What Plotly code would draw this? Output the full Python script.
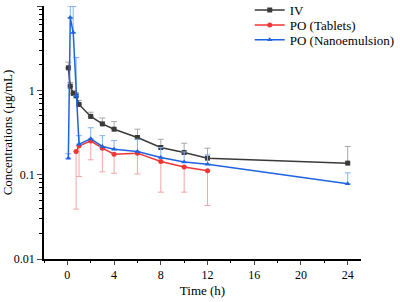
import plotly.graph_objects as go

# ---- data ----
iv_t = [0.083, 0.25, 0.5, 0.75, 1, 2, 3, 4, 6, 8, 10, 12, 24]
iv_c = [1.85, 1.12, 0.92, 0.86, 0.68, 0.49, 0.40, 0.346, 0.276, 0.21, 0.183, 0.157, 0.137]
iv_err = [0.31, 0.12, 0.08, 0.08, 0.08, 0.06, 0.07, 0.08, 0.07, 0.053, 0.053, 0.049, 0.079]

tab_t = [0.75, 1, 2, 3, 4, 6, 8, 10, 12]
tab_c = [0.188, 0.22, 0.25, 0.206, 0.175, 0.18, 0.143, 0.123, 0.111]
tab_err = [0.149, 0.125, 0.10, 0.098, 0.071, 0.078, 0.081, 0.061, 0.068]

nano_t = [0.083, 0.25, 0.5, 0.75, 1, 2, 3, 4, 6, 8, 10, 12, 24]
nano_c = [0.157, 7.3, 4.85, 0.86, 0.23, 0.266, 0.216, 0.2, 0.188, 0.16, 0.141, 0.133, 0.078]
nano_err = [0.02, 2.7, 5.0, 1.59, 0.06, 0.094, 0.074, 0.054, 0.075, 0.05, 0.045, 0.039, 0.027]

x_ticks = [0, 4, 8, 12, 16, 20, 24]

FONT = "Liberation Serif, Times New Roman, serif"

fig = go.Figure()

def add(name, t, c, err, color, ecolor, symbol, legend, minus=False):
    zeros = [0] * len(err)
    fig.add_trace(go.Scatter(
        x=t, y=c, name=name, mode="lines+markers", legend=legend,
        line=dict(color=color, width=1.5),
        marker=dict(symbol=symbol, size=5, color=color),
        error_y=dict(type="data", symmetric=False,
                     array=zeros if minus else err,
                     arrayminus=err if minus else zeros,
                     color=ecolor, thickness=1, width=3),
    ))

add("IV", iv_t, iv_c, iv_err, "#3a3a3a", "#a8a8a8", "square", "legend")
add("PO (Tablets)", tab_t, tab_c, tab_err, "#f03535", "#f5a5a5", "circle", "legend2", minus=True)
add("PO (Nanoemulsion)", nano_t, nano_c, nano_err, "#1f63e0", "#86b0f0", "triangle-up", "legend3")

def leg(y):
    return dict(x=0.649, y=y, xanchor="left", yanchor="middle",
                bgcolor="rgba(0,0,0,0)", font=dict(family=FONT, size=13),
                borderwidth=0)

fig.update_layout(
    width=400, height=302,
    margin=dict(l=44, r=39, t=6, b=43, autoexpand=False),
    paper_bgcolor="white", plot_bgcolor="white",
    font=dict(family=FONT, size=12, color="black"),
    showlegend=True,
    legend=leg(0.984), legend2=leg(0.925), legend3=leg(0.866),
)

fig.update_xaxes(
    range=[-2, 25.14], tickvals=x_ticks, ticks="outside", ticklen=4, tickwidth=1,
    showline=True, linecolor="black", linewidth=1.5, showgrid=False, zeroline=False,
    minor=dict(dtick=2, tick0=0, ticks="outside", ticklen=2, tickcolor="black", showgrid=False),
    title=dict(text="Time (h)", font=dict(family=FONT, size=13), standoff=5),
    tickfont=dict(family=FONT, size=12), automargin=False,
)
fig.update_yaxes(
    type="log", range=[-2, 1], dtick=1, ticks="outside", ticklen=5, tickwidth=1,
    showline=True, linecolor="black", linewidth=1.5, showgrid=False, zeroline=False,
    minor=dict(dtick="D1", ticks="outside", ticklen=3, tickcolor="black", showgrid=False),
    title=dict(text="Concentrations (μg/mL)", font=dict(family=FONT, size=13), standoff=2),
    tickfont=dict(family=FONT, size=12), automargin=False,
)

fig.write_html("out.html", config={"displayModeBar": False},
               post_script="document.body.style.margin='0';")
